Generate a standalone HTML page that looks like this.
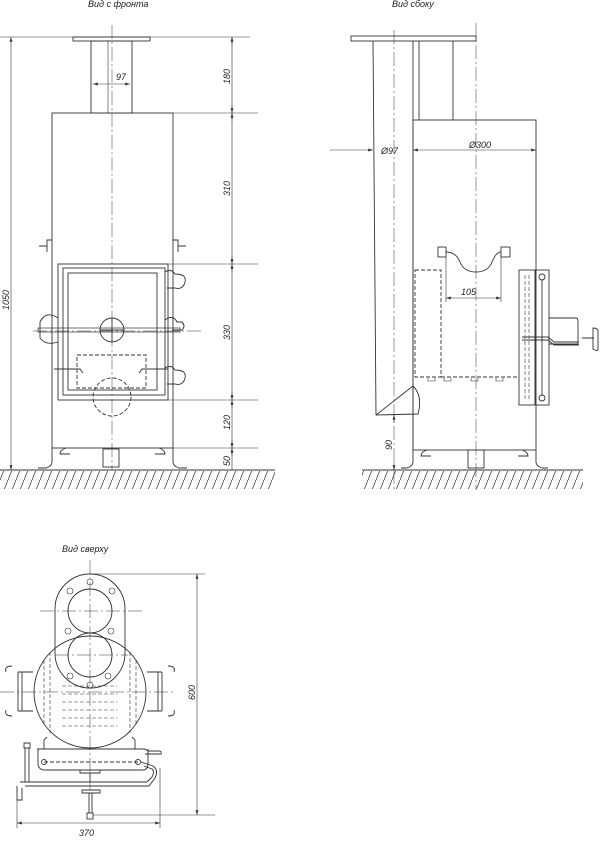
<!DOCTYPE html>
<html><head><meta charset="utf-8"><style>
html,body{margin:0;padding:0;background:#fff}
svg{display:block}
text{font-family:"Liberation Sans",sans-serif;font-style:italic;font-size:9px;fill:#222}
</style></head><body>
<svg width="600" height="845" viewBox="0 0 600 845" xmlns="http://www.w3.org/2000/svg">
<defs>
<pattern id="h" width="8" height="20" patternUnits="userSpaceOnUse">
<line x1="8" y1="0" x2="0" y2="20" stroke="#333" stroke-width="0.7"/>
</pattern>
<marker id="a" viewBox="0 0 10 6" refX="10" refY="3" markerWidth="8" markerHeight="5" orient="auto-start-reverse">
<path d="M0,0 L10,3 L0,6 z" fill="#333"/>
</marker>
</defs>
<g fill="none" stroke="#333" stroke-width="0.9">
<!-- ===== FRONT VIEW ===== -->
<text x="88" y="7" stroke="none">Вид с фронта</text>
<line x1="0" y1="37" x2="150" y2="37" stroke-width="0.6"/>
<rect x="73" y="37" width="77" height="4"/>
<rect x="91" y="41" width="41" height="72"/>
<line x1="112" y1="25" x2="112" y2="470" stroke-width="0.5" stroke-dasharray="14 3 2 3"/>
<line x1="108" y1="41" x2="108" y2="113" stroke-width="0.6"/>
<line x1="93" y1="84" x2="130" y2="84" stroke-width="0.6" marker-start="url(#a)" marker-end="url(#a)"/>
<text x="116" y="80" stroke="none">97</text>
<rect x="52" y="113" width="121" height="335"/>
<path d="M52,240 h-5 v12 M47,246 h-8 M173,240 h5 v12 M178,246 h8"/>
<rect x="58" y="264" width="110" height="136"/>
<rect x="63" y="268" width="102" height="127"/>
<rect x="68" y="273" width="89" height="117"/>
<path d="M165,272 q6,-4 10,2 q12,0 10,8 q-2,8 -10,6 h-8 M165,320 q8,-6 12,2 h5 q4,4 0,8 h-10 M165,368 q6,-4 10,2 q12,0 10,8 q-2,8 -10,6 h-8"/>
<circle cx="112" cy="330" r="12"/>
<line x1="100" y1="330" x2="124" y2="330"/>
<line x1="112" y1="318" x2="112" y2="342"/>
<line x1="33" y1="331" x2="202" y2="331" stroke-width="0.5" stroke-dasharray="14 3 2 3"/>
<rect x="38" y="328" width="142" height="4" stroke-width="0.7"/>
<path d="M58,318 q-12,-8 -18,4 v16 q6,8 18,4"/>
<rect x="77" y="355" width="69" height="33" stroke-dasharray="4 2"/>
<path d="M54,369 h26 l3,4 M168,369 h-26 l-3,4"/>
<circle cx="112" cy="397" r="19" stroke-dasharray="4 2"/>
<path d="M52,448 v14 q0,4 -6,6 h-8 M173,448 v14 q0,4 6,6 h8 M66,448 q-6,2 -6,6 h10 M159,448 q6,2 6,6 h-10"/>
<rect x="103" y="449" width="16" height="18"/>
<line x1="11" y1="37" x2="11" y2="470" marker-start="url(#a)" marker-end="url(#a)" stroke-width="0.6"/>
<text transform="translate(9,310) rotate(-90)" stroke="none">1050</text>
<line x1="232" y1="37" x2="232" y2="470" stroke-width="0.6"/>
<path d="M173,113 H258 M168,264 H258 M168,400 H258 M173,448 H258 M150,37 H250" stroke-width="0.6"/>
<line x1="232" y1="45" x2="232" y2="37" marker-end="url(#a)" stroke-width="0.6"/>
<line x1="232" y1="105" x2="232" y2="113" marker-end="url(#a)" stroke-width="0.6"/>
<line x1="232" y1="121" x2="232" y2="113" marker-end="url(#a)" stroke-width="0.6"/>
<line x1="232" y1="256" x2="232" y2="264" marker-end="url(#a)" stroke-width="0.6"/>
<line x1="232" y1="272" x2="232" y2="264" marker-end="url(#a)" stroke-width="0.6"/>
<line x1="232" y1="392" x2="232" y2="400" marker-end="url(#a)" stroke-width="0.6"/>
<line x1="232" y1="408" x2="232" y2="400" marker-end="url(#a)" stroke-width="0.6"/>
<line x1="232" y1="440" x2="232" y2="448" marker-end="url(#a)" stroke-width="0.6"/>
<line x1="232" y1="456" x2="232" y2="448" marker-end="url(#a)" stroke-width="0.6"/>
<text transform="translate(230,84) rotate(-90)" stroke="none">180</text>
<text transform="translate(230,196) rotate(-90)" stroke="none">310</text>
<text transform="translate(230,340) rotate(-90)" stroke="none">330</text>
<text transform="translate(230,430) rotate(-90)" stroke="none">120</text>
<text transform="translate(230,466) rotate(-90)" stroke="none">50</text>
<line x1="0" y1="470" x2="275" y2="470"/>
<rect x="0" y="471" width="275" height="18" fill="url(#h)" stroke="none"/>

<!-- ===== SIDE VIEW ===== -->
<text x="392" y="7" stroke="none">Вид сбоку</text>
<rect x="351" y="36" width="125" height="5"/>
<line x1="373" y1="41" x2="376" y2="415"/>
<line x1="413" y1="41" x2="413" y2="450"/>
<line x1="419" y1="41" x2="419" y2="120"/>
<line x1="453" y1="41" x2="453" y2="120"/>
<rect x="413" y="120" width="123" height="330"/>
<line x1="476" y1="23" x2="476" y2="490" stroke-width="0.5" stroke-dasharray="14 3 2 3"/>
<line x1="394" y1="30" x2="394" y2="490" stroke-width="0.5" stroke-dasharray="14 3 2 3"/>
<path d="M376,415 L413,386 q10,10 5,28 L376,415"/>
<line x1="330" y1="150" x2="373" y2="150" marker-end="url(#a)" stroke-width="0.6"/>
<text x="381" y="154" stroke="none">Ø97</text>
<line x1="413" y1="150" x2="536" y2="150" marker-start="url(#a)" marker-end="url(#a)" stroke-width="0.6"/>
<text x="469" y="148" stroke="none">Ø300</text>
<rect x="438" y="247" width="8" height="10"/>
<rect x="501" y="247" width="9" height="10"/>
<path d="M446,252 q10,0 14,10 q4,10 16,10 q12,0 16,-10 q4,-10 9,-10"/>
<line x1="446" y1="257" x2="446" y2="302" stroke-width="0.6"/>
<line x1="501" y1="257" x2="501" y2="302" stroke-width="0.6"/>
<line x1="446" y1="298" x2="501" y2="298" marker-start="url(#a)" marker-end="url(#a)" stroke-width="0.6"/>
<text x="461" y="295" stroke="none">105</text>
<rect x="415" y="270" width="26" height="107" stroke-dasharray="4 2"/>
<line x1="441" y1="377" x2="519" y2="377" stroke-dasharray="4 2"/>
<path d="M428,378 v3 h7 v-3 M444,378 v3 h7 v-3 M471,378 v3 h7 v-3 M496,378 v3 h7 v-3" stroke-width="0.6"/>
<rect x="519" y="270" width="16" height="135"/>
<path d="M525,275 v125 M529,275 v125" stroke-dasharray="4 2" stroke-width="0.6"/>
<rect x="535" y="270" width="14" height="135"/>
<circle cx="542" cy="277" r="3"/>
<circle cx="542" cy="398" r="3"/>
<line x1="542" y1="280" x2="542" y2="395"/>
<path d="M549,318 h27 q2,0 2,4 v22 h-29"/>
<path d="M522,337 h26 l6,5 h25 M522,340 h26 l6,5 h25"/>
<path d="M582,338 h12 M593,328 q5,0 5,3 v18 q0,3 -5,0 z"/>
<path d="M413,450 v12 q0,4 -6,6 h-6 M536,450 v12 q0,4 6,6 h6 M427,450 q-6,2 -6,6 h10 M522,450 q6,2 6,6 h-10"/>
<rect x="468" y="450" width="16" height="18"/>
<line x1="394" y1="423" x2="394" y2="415" marker-end="url(#a)" stroke-width="0.6"/>
<line x1="394" y1="462" x2="394" y2="470" marker-end="url(#a)" stroke-width="0.6"/>
<text transform="translate(392,450) rotate(-90)" stroke="none">90</text>
<line x1="362" y1="470" x2="583" y2="470"/>
<rect x="362" y="471" width="221" height="18" fill="url(#h)" stroke="none"/>

<!-- ===== TOP VIEW ===== -->
<text x="62" y="552" stroke="none">Вид сверху</text>
<line x1="90" y1="560" x2="90" y2="790" stroke-width="0.5" stroke-dasharray="14 3 2 3"/>
<path d="M55,609 a35,35 0 0 1 70,0 V653 a35,35 0 0 1 -70,0 z"/>
<circle cx="90" cy="611" r="22"/>
<circle cx="90" cy="655" r="22"/>
<circle cx="90" cy="692" r="56"/>
<path d="M44,660 V725 M50,652 V733 M136,660 V725 M130,652 V733" stroke-dasharray="4 2" stroke-width="0.6"/>
<line x1="40" y1="611" x2="145" y2="611" stroke-width="0.5" stroke-dasharray="14 3 2 3"/>
<line x1="55" y1="655" x2="128" y2="655" stroke-width="0.5" stroke-dasharray="14 3 2 3"/>
<line x1="0" y1="692" x2="176" y2="692" stroke-width="0.5" stroke-dasharray="14 3 2 3"/>
<g stroke-width="0.6">
<circle cx="90" cy="582" r="3"/><circle cx="90" cy="685" r="3"/>
<circle cx="70" cy="591" r="3"/><circle cx="112" cy="591" r="3"/>
<circle cx="68" cy="631" r="3"/><circle cx="111" cy="631" r="3"/>
<circle cx="70" cy="676" r="3"/><circle cx="108" cy="676" r="3"/>
</g>
<path d="M62,686 h55 M62,694 h55 M62,702 h55 M62,710 h55 M62,718 h55 M62,726 h55" stroke-dasharray="4 2" stroke-width="0.6"/>
<path d="M18,672 h15 M18,711 h15 M18,672 v39 M22,672 v39 M12,666 q-8,0 -6,6 M12,716 q-8,0 -6,-6 M147,672 h15 M147,711 h15 M158,672 v39 M162,672 v39 M168,666 q8,0 6,6 M168,716 q8,0 6,-6"/>
<path d="M44,749 v-9 l3,-3 M135,749 v-9 l-3,-3"/>
<path d="M37,749 h106 q3,0 5,2 h11 q3,0 2,3 h-16"/>
<path d="M38,749 v14 q0,7 7,7 h98 q5,0 5,-7 v-14"/>
<line x1="44" y1="762" x2="138" y2="762" stroke-dasharray="4 2"/>
<circle cx="44" cy="762" r="2.5"/><circle cx="138" cy="762" r="2.5"/>
<path d="M141,762 l12,4 q6,4 2,12 l-6,8 h-124 M144,766 l8,3 q3,3 0,8 l-5,5 h-118"/>
<path d="M17,782 q0,0 0,0 M20,782 h10 M17,786 v14 h5 v-12"/>
<path d="M24,743 h6 v5 h-6 z M25,748 v34 M29,748 v34"/>
<path d="M80,770 h20 v3 h-20 z M90,773 v9"/>
<path d="M82,790 h18 v3 h-18 z M89,793 v20 M92,793 v20"/>
<rect x="87" y="813" width="6" height="6"/>
<line x1="90" y1="574" x2="205" y2="574" stroke-width="0.6"/>
<line x1="93" y1="815" x2="215" y2="815" stroke-width="0.6"/>
<line x1="197" y1="574" x2="197" y2="815" marker-start="url(#a)" marker-end="url(#a)" stroke-width="0.6"/>
<text transform="translate(195,700) rotate(-90)" stroke="none">600</text>
<line x1="17" y1="800" x2="17" y2="828" stroke-width="0.6"/>
<line x1="160" y1="768" x2="160" y2="828" stroke-width="0.6"/>
<line x1="17" y1="823" x2="160" y2="823" marker-start="url(#a)" marker-end="url(#a)" stroke-width="0.6"/>
<text x="79" y="836" stroke="none">370</text>
</g>
</svg>
</body></html>
